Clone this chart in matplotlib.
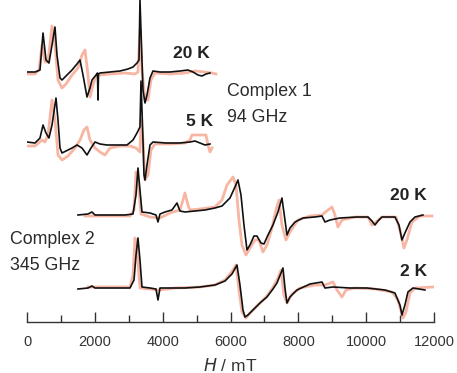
import matplotlib
matplotlib.use("Agg")
import matplotlib.pyplot as plt
import numpy as np

plt.rcParams['font.family'] = ['Liberation Sans', 'DejaVu Sans']

# ---- data: field (mT) and relative intensity (arb. units) ----
# Complex 1, 94 GHz, 20 K
c1_20_exp_x = [0, 236, 383, 472, 560, 648, 737, 825, 884, 973, 1032, 1150, 1327, 1474, 1562, 1651, 1769, 1857, 1916, 2034,
               2078, 2093, 2108, 2152, 2447, 2742, 2978, 3125, 3243, 3302, 3331, 3390, 3420, 3479, 3538, 3626, 3714,
               3921, 4216, 4510, 4746, 4894, 5041, 5159, 5277, 5395]
c1_20_exp_y = [0, 0, 2, 39, 12, 9, 27, 45, 17, -6, -8, -4, 2, 8, 12, -3, -25, -16, -8, -3,
               -1, -28, -2, -1, 0, 1, 3, 5, 9, 12, 72, 12, -18, -31, -23, -6, 1,
               0, 0, 1, 2, 0, -3, -4, -2, -1]
c1_20_sim_x = [0, 236, 354, 442, 531, 619, 737, 825, 914, 1032, 1150, 1327, 1503, 1621, 1710, 1798, 1857, 1946, 2034,
               2152, 2447, 2889, 3184, 3272, 3331, 3390, 3479, 3567, 3655, 3773, 4216, 4658, 4953, 5247, 5453, 5571]
c1_20_sim_y = [-2, -2, 2, 27, 10, 10, 46, 27, -8, -16, -12, -3, 4, 17, 22, -3, -25, -13, -4,
               -3, -2, -1, -2, 0, 42, 2, -28, -28, -8, -1, -2, -1, 1, 0, -1, -2]

# Complex 1, 94 GHz, 5 K
c1_5_exp_x = [0, 236, 383, 472, 560, 648, 737, 855, 914, 973, 1032, 1150, 1327, 1474, 1621, 1769, 1887, 2005, 2152,
              2358, 2594, 2948, 3125, 3243, 3331, 3361, 3420, 3449, 3479, 3538, 3626, 3714, 4098, 4510, 4805,
              4953, 5100, 5247, 5395]
c1_5_exp_y = [1, 0, 5, 18, 10, 5, 18, 45, 23, -5, -10, -8, -5, -2, -5, -12, -5, 1, -1,
              -2, -2, -2, 3, 10, 16, 62, 3, -32, -37, -22, -2, 1, 0, 0, 1,
              2, 0, -2, -1]
c1_5_sim_x = [0, 236, 442, 531, 619, 737, 825, 914, 1032, 1209, 1415, 1562, 1680, 1769, 1857, 2005, 2152, 2299, 2447,
              2742, 3036, 3214, 3331, 3361, 3420, 3479, 3567, 3655, 3773, 4216, 4658, 4805, 4864, 5277, 5336,
              5395, 5453]
c1_5_sim_y = [-3, -3, 3, 1, 8, 43, 23, -12, -17, -13, -5, 3, 13, 16, 3, -5, -9, -12, -5,
              -3, -3, -5, -9, 23, 3, -37, -32, -7, -1, -1, 0, 3, 8, 8, -2,
              -9, -5]

# Complex 2, 345 GHz, 20 K
c2_20_exp_x = [1503, 1798, 1916, 2005, 2447, 2889, 3125, 3214, 3272, 3331, 3390, 3626, 3803, 3862, 3921, 4068, 4274,
               4422, 4510, 4658, 4953, 5247, 5542, 5749, 5984, 6132, 6220, 6309, 6397, 6486, 6574, 6692, 6780,
               6898, 6987, 7105, 7252, 7399, 7517, 7606, 7665, 7753, 7901, 8137, 8491, 8697, 8785, 8933, 9227,
               9728, 10053, 10171, 10259, 10348, 10466, 10849, 10967, 11055, 11143, 11291, 11438, 11674]
c2_20_exp_y = [0, 1, 3, 0, 0, 0, 1, 20, 47, 25, 3, 2, 0, -7, 1, 3, 5,
               12, 4, 3, 4, 5, 7, 9, 17, 28, 35, 20, -10, -35, -30, -21, -21,
               -28, -29, -20, -10, 3, 17, -5, -20, -13, -7, -3, -2, -1, -7, -5, -3,
               -2, -2, -6, -10, -6, -2, -2, -10, -25, -18, -7, -2, 0]
c2_20_sim_x = [1710, 2152, 3036, 3155, 3214, 3272, 3361, 3626, 3921, 4216, 4510, 4599, 4658, 4746, 4805, 5100, 5542,
               5749, 5896, 6073, 6161, 6250, 6338, 6456, 6574, 6721, 6839, 6957, 7075, 7222, 7340, 7429, 7517,
               7635, 7753, 7989, 8343, 8697, 8874, 8991, 9080, 9168, 9286, 9669, 10053, 10171, 10289, 10466,
               10878, 10996, 11114, 11202, 11349, 11585, 11939]
c2_20_sim_y = [-1, -1, -1, 5, 43, 35, 1, -2, -3, 2, 5, 15, 22, 10, 5, 6, 8,
               15, 30, 38, 30, -5, -30, -40, -33, -25, -25, -37, -30, -13, 5, 15, -10,
               -25, -17, -5, -1, 0, 5, 8, 0, -12, -5, -2, -2, -10, -7, -2,
               -2, -15, -33, -25, -7, -1, -1]

# Complex 2, 345 GHz, 2 K
c2_2_exp_x = [1503, 1798, 1916, 2005, 2447, 3036, 3155, 3214, 3272, 3331, 3390, 3626, 3803, 3862, 3921, 4216, 4658,
              5100, 5542, 5837, 6043, 6191, 6279, 6368, 6427, 6515, 6662, 6869, 7075, 7252, 7370, 7547, 7606,
              7665, 7753, 7960, 8343, 8697, 8785, 9021, 9522, 10023, 10554, 10849, 10996, 11055, 11143, 11232,
              11379, 11733]
c2_2_exp_y = [-1, 0, 2, 0, 0, 0, 8, 33, 50, 28, 1, 0, -1, -12, 0, 0, 0,
              1, 3, 7, 14, 23, 3, -22, -29, -27, -22, -15, -9, -1, 5, 20, 0,
              -15, -9, -2, 4, 6, 0, 1, 0, 0, -2, -5, -17, -27, -17, -4,
              0, -2]
c2_2_sim_x = [1798, 2152, 3036, 3125, 3184, 3243, 3331, 3626, 3832, 3921, 4363, 5100, 5542, 5837, 6073, 6161, 6250,
              6338, 6456, 6574, 6810, 7046, 7222, 7399, 7488, 7576, 7665, 7812, 8048, 8491, 8785, 9021, 9139,
              9286, 9404, 9669, 10259, 10760, 10937, 11085, 11173, 11291, 11438, 11969]
c2_2_sim_y = [1, 1, 1, 13, 50, 38, 0, -1, -2, -2, 0, 1, 3, 8, 18, 23, -2,
              -24, -30, -25, -17, -9, -1, 10, 18, -7, -15, -6, 0, 3, 3, 6, -2,
              -9, -2, 0, -1, -4, -12, -30, -24, -5, 0, 1]

xticks = [0, 2000, 4000, 6000, 8000, 10000, 12000]

# ---- layout ----
W, H = 457, 373
fig = plt.figure(figsize=(W / 100, H / 100), dpi=100)
ax = fig.add_axes([27 / W, (H - 322) / H, 407 / W, 322 / H])
ax.set_xlim(0, 12000)
ax.set_ylim(0, 322)

sim_color = '#f6a48c'
traces = [
    (c1_20_exp_x, c1_20_exp_y, c1_20_sim_x, c1_20_sim_y, 250),
    (c1_5_exp_x, c1_5_exp_y, c1_5_sim_x, c1_5_sim_y, 179),
    (c2_20_exp_x, c2_20_exp_y, c2_20_sim_x, c2_20_sim_y, 107),
    (c2_2_exp_x, c2_2_exp_y, c2_2_sim_x, c2_2_sim_y, 34),
]
for ex, ey, sx, sy, off in traces:
    ax.plot(sx, np.array(sy) + off, color=sim_color, lw=2.0, alpha=0.8, solid_joinstyle='round', zorder=1)
    ax.plot(ex, np.array(ey) + off, color='#111111', lw=1.2, solid_joinstyle='round', zorder=2)

for s in ['top', 'right', 'left']:
    ax.spines[s].set_visible(False)
ax.spines['bottom'].set_color('#333333')
ax.spines['bottom'].set_linewidth(1.0)
ax.set_yticks([])
ax.set_xticks(xticks)
ax.set_xticklabels([str(t) for t in xticks])
ax.set_xticks(np.arange(1000, 12000, 2000), minor=True)
ax.tick_params(axis='x', which='major', direction='in', length=7, width=1.0, color='#333333',
               labelsize=10.5, labelcolor='#333333', pad=9)
ax.tick_params(axis='x', which='minor', direction='in', length=5, width=1.0, color='#333333')
ax.set_xlabel(r'$\mathit{H}$ / mT', fontsize=12.5, color='#333333', labelpad=6)

kw_k = dict(fontsize=12.5, fontweight='bold', color='#222222', va='center', ha='left')
kw_c = dict(fontsize=12.8, color='#2a2a2a', va='center', ha='left')
ax.text(4300, 322 - 53, '20 K', **kw_k)
ax.text(4700, 322 - 121, '5 K', **kw_k)
ax.text(5900, 322 - 92, 'Complex 1', **kw_c)
ax.text(5900, 322 - 117, '94 GHz', **kw_c)
ax.text(10700, 322 - 195, '20 K', **kw_k)
ax.text(11000, 322 - 272, '2 K', **kw_k)
ax.text(-500, 322 - 240, 'Complex 2', **kw_c)
ax.text(-500, 322 - 265, '345 GHz', **kw_c)

fig.savefig('out.png', dpi=100)
